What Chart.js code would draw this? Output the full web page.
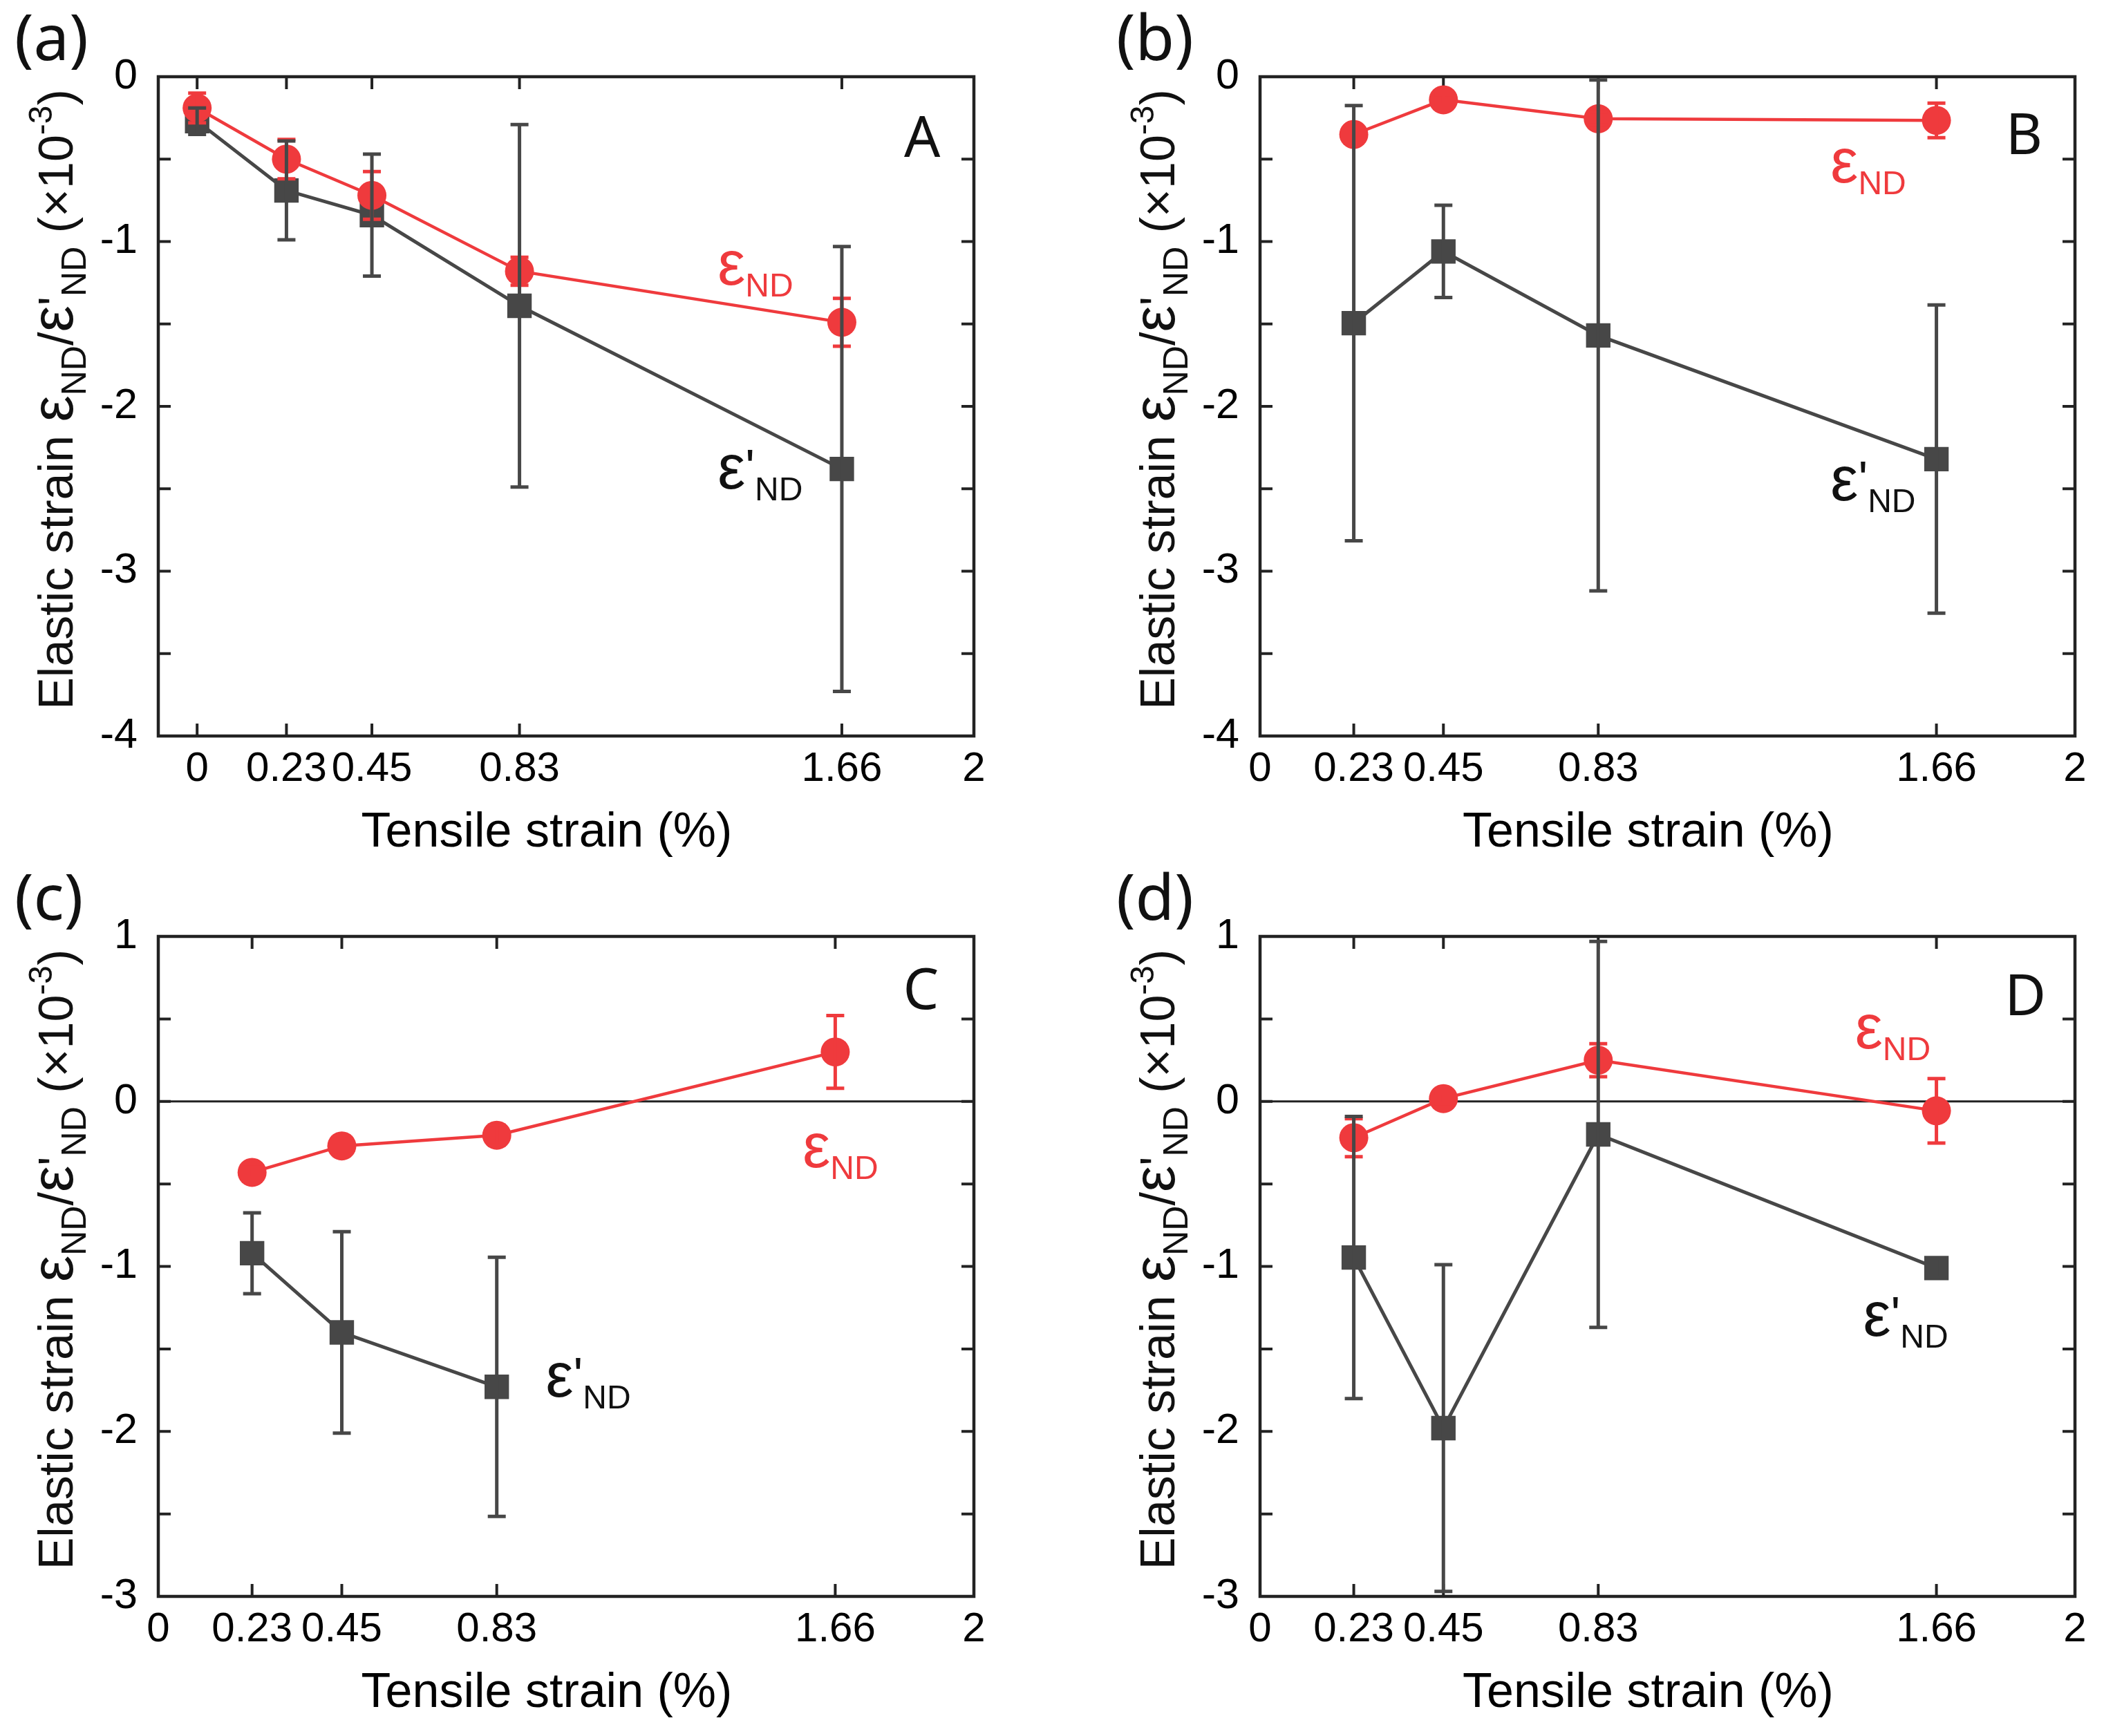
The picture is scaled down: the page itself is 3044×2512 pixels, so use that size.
<!DOCTYPE html>
<html>
<head>
<meta charset="utf-8">
<script src="https://cdn.jsdelivr.net/npm/chart.js@4.4.1/dist/chart.umd.min.js"></script>
<style>
  html, body { margin: 0; padding: 0; background: #fff; }
  .panel { position: absolute; width: 1522px; height: 1256px; }
</style>
</head>
<body>
<div class="panel" style="left:0;top:0"><canvas id="chartA"></canvas></div>
<div class="panel" style="left:1522px;top:0"><canvas id="chartB"></canvas></div>
<div class="panel" style="left:0;top:1256px"><canvas id="chartC"></canvas></div>
<div class="panel" style="left:1522px;top:1256px"><canvas id="chartD"></canvas></div>
<script>
// x tick labels shared by all panels
const xTickValues = [0, 0.23, 0.45, 0.83, 1.66, 2];

// (a)
const strainA = [0, 0.23, 0.45, 0.83, 1.66];
const ndA = [-0.19, -0.50, -0.72, -1.18, -1.49];
const ndErrA = [0.09, 0.12, 0.145, 0.085, 0.145];
const ndPrimeA = [-0.27, -0.69, -0.84, -1.39, -2.38];
const ndPrimeErrA = [0.08, 0.30, 0.37, 1.10, 1.35];

// (b)
const strainB = [0.23, 0.45, 0.83, 1.66];
const ndB = [-0.35, -0.14, -0.255, -0.265];
const ndErrB = [0.05, 0.03, 0.04, 0.105];
const ndPrimeB = [-1.495, -1.06, -1.57, -2.32];
const ndPrimeErrB = [1.32, 0.28, 1.55, 0.935];

// (c)
const strainC = [0.23, 0.45, 0.83, 1.66];
const ndC = [-0.43, -0.27, -0.205, 0.30];
const ndErrC = [0.03, 0.06, 0.06, 0.22];
const strainPrimeC = [0.23, 0.45, 0.83];
const ndPrimeC = [-0.92, -1.40, -1.73];
const ndPrimeErrC = [0.245, 0.61, 0.785];

// (d)
const strainD = [0.23, 0.45, 0.83, 1.66];
const ndD = [-0.22, 0.017, 0.25, -0.057];
const ndErrD = [0.115, 0.03, 0.10, 0.195];
const ndPrimeD = [-0.946, -1.98, -0.20, -1.01];
const ndPrimeErrD = [0.855, 0.99, 1.17, 0.06];

const RED = '#ef3a3d';
const GRAY = '#474747';
const INK = '#111111';
const FONT = "'Liberation Sans', Arial, sans-serif";
const LABEL_FONT = "'Noto Sans', 'Liberation Sans', sans-serif";
const W = 1522, H = 1256, Y_AXIS_W = 110, X_AXIS_H = 200;
const X_TITLE = 'Tensile strain (%)';

const yTitleParts = [
    { text: 'Elastic strain ', size: 70 },
    { text: 'ε', size: 86 },
    { text: 'ND', size: 50, dy: 19 },
    { text: '/', size: 70 },
    { text: 'ε', size: 86 },
    { text: "'", size: 70 },
    { text: 'ND', size: 50, dy: 19 },
    { text: ' (×10', size: 70 },
    { text: '-3', size: 48, dy: -30 },
    { text: ')', size: 70 }
];
const ndLabelParts = [
    { text: 'ε', size: 90 },
    { text: 'ND', size: 48, dy: 17 }
];
const ndPrimeLabelParts = [
    { text: 'ε', size: 90 },
    { text: "'", size: 72, dy: -6 },
    { text: 'ND', size: 48, dy: 17 }
];

function richWidth(ctx, parts) {
    let w = 0;
    parts.forEach(p => {
        ctx.font = `${p.size}px ${FONT}`;
        w += ctx.measureText(p.text).width;
    });
    return w;
}

function drawRich(ctx, parts, x, y, color) {
    let cx = x;
    parts.forEach(p => {
        ctx.font = `${p.size}px ${FONT}`;
        ctx.fillStyle = color;
        ctx.textBaseline = 'alphabetic';
        ctx.textAlign = 'left';
        ctx.fillText(p.text, cx, y + (p.dy || 0));
        cx += ctx.measureText(p.text).width;
    });
}

// box, inward ticks and zero line
const framePlugin = {
    id: 'frame',
    beforeDatasetsDraw(chart, args, opts) {
        const { ctx, chartArea: a, scales: { x, y } } = chart;
        ctx.save();
        ctx.strokeStyle = '#222';
        if (opts.zeroLine) {
            const py = y.getPixelForValue(0);
            ctx.lineWidth = 3;
            ctx.beginPath();
            ctx.moveTo(a.left, py);
            ctx.lineTo(a.right, py);
            ctx.stroke();
        }
        ctx.lineWidth = 4.5;
        ctx.strokeRect(a.left, a.top, a.right - a.left, a.bottom - a.top);
        const len = 18;
        ctx.lineWidth = 4;
        ctx.beginPath();
        xTickValues.forEach(v => {
            const px = x.getPixelForValue(v);
            if (px <= a.left + 2 || px >= a.right - 2) return;
            ctx.moveTo(px, a.bottom); ctx.lineTo(px, a.bottom - len);
            ctx.moveTo(px, a.top); ctx.lineTo(px, a.top + len);
        });
        for (let v = y.min + opts.yStep; v < y.max - 1e-6; v += opts.yStep) {
            const py = y.getPixelForValue(v);
            ctx.moveTo(a.left, py); ctx.lineTo(a.left + len, py);
            ctx.moveTo(a.right, py); ctx.lineTo(a.right - len, py);
        }
        ctx.stroke();
        ctx.restore();
    }
};

const errorBarPlugin = {
    id: 'errorBars',
    afterDatasetsDraw(chart) {
        const { ctx, scales: { x, y } } = chart;
        ctx.save();
        chart.data.datasets.forEach(ds => {
            if (!ds.errorBars) return;
            ctx.strokeStyle = ds.borderColor;
            ctx.lineWidth = 5;
            ds.data.forEach((pt, i) => {
                const e = ds.errorBars[i];
                const px = x.getPixelForValue(pt.x);
                const top = y.getPixelForValue(pt.y + e);
                const bot = y.getPixelForValue(pt.y - e);
                ctx.beginPath();
                ctx.moveTo(px, top); ctx.lineTo(px, bot);
                ctx.moveTo(px - 13, top); ctx.lineTo(px + 13, top);
                ctx.moveTo(px - 13, bot); ctx.lineTo(px + 13, bot);
                ctx.stroke();
            });
        });
        ctx.restore();
    }
};

const labelPlugin = {
    id: 'labels',
    afterDraw(chart, args, opts) {
        const { ctx, chartArea: a, scales: { x, y } } = chart;
        ctx.save();
        // panel letter
        ctx.font = `92px ${LABEL_FONT}`;
        ctx.fillStyle = INK;
        ctx.textAlign = 'left';
        ctx.textBaseline = 'alphabetic';
        ctx.fillText(opts.letter, a.left - 208, a.top - 24);
        // sample tag
        ctx.font = `82px ${LABEL_FONT}`;
        ctx.textAlign = 'center';
        ctx.textBaseline = 'middle';
        ctx.fillText(opts.tag, x.getPixelForValue(opts.tagAt[0]), y.getPixelForValue(opts.tagAt[1]));
        // x axis title, sits a little left of centre in the original
        ctx.font = `70px ${FONT}`;
        ctx.fillStyle = '#000';
        ctx.textBaseline = 'alphabetic';
        ctx.fillText(X_TITLE, (a.left + a.right) / 2 - 28, a.bottom + 160);
        // curve labels
        drawRich(ctx, ndLabelParts, x.getPixelForValue(opts.ndAt[0]), y.getPixelForValue(opts.ndAt[1]), RED);
        drawRich(ctx, ndPrimeLabelParts, x.getPixelForValue(opts.ndPrimeAt[0]), y.getPixelForValue(opts.ndPrimeAt[1]), INK);
        // y axis title
        const tw = richWidth(ctx, yTitleParts);
        ctx.translate(a.left - 124, (a.top + a.bottom) / 2 - 10);
        ctx.rotate(-Math.PI / 2);
        drawRich(ctx, yTitleParts, -tw / 2, 0, INK);
        ctx.restore();
    }
};

function toPoints(xs, ys) {
    return xs.map((v, i) => ({ x: v, y: ys[i] }));
}

function makePanel(cfg) {
    const ctx = document.getElementById(cfg.id)?.getContext('2d');
    if (!ctx) return;
    const a = cfg.area;
    return new Chart(ctx, {
        type: 'line',
        data: {
            datasets: [
                {
                    label: 'εND',
                    data: toPoints(cfg.ndX, cfg.nd),
                    errorBars: cfg.ndErr,
                    borderColor: RED,
                    backgroundColor: RED,
                    borderWidth: 4.5,
                    pointStyle: 'circle',
                    pointRadius: 21,
                    pointHoverRadius: 21,
                    pointBorderWidth: 0,
                    clip: false
                },
                {
                    label: "ε'ND",
                    data: toPoints(cfg.ndPrimeX, cfg.ndPrime),
                    errorBars: cfg.ndPrimeErr,
                    borderColor: GRAY,
                    backgroundColor: GRAY,
                    borderWidth: 5,
                    pointStyle: 'rect',
                    pointRadius: 25,
                    pointHoverRadius: 25,
                    pointBorderWidth: 0,
                    clip: false
                }
            ]
        },
        options: {
            responsive: true,
            maintainAspectRatio: false,
            animation: false,
            events: [],
            layout: {
                padding: {
                    left: a.left - Y_AXIS_W,
                    top: a.top,
                    right: W - a.right,
                    bottom: H - a.bottom - X_AXIS_H
                }
            },
            plugins: {
                legend: { display: false },
                tooltip: { enabled: false },
                frame: { zeroLine: cfg.zeroLine, yStep: 0.5 },
                labels: {
                    letter: cfg.letter, tag: cfg.tag, tagAt: cfg.tagAt,
                    ndAt: cfg.ndAt, ndPrimeAt: cfg.ndPrimeAt
                }
            },
            scales: {
                x: {
                    type: 'linear',
                    min: cfg.xMin,
                    max: 2,
                    afterBuildTicks: scale => { scale.ticks = xTickValues.map(v => ({ value: v })); },
                    afterFit: scale => { scale.height = X_AXIS_H; },
                    grid: { display: false, drawTicks: false },
                    border: { display: false },
                    ticks: {
                        autoSkip: false,
                        maxRotation: 0,
                        padding: 12,
                        color: '#000',
                        font: { family: FONT, size: 60 },
                        callback: v => String(v)
                    },
                    title: { display: false }
                },
                y: {
                    min: cfg.yMin,
                    max: cfg.yMax,
                    afterFit: scale => { scale.width = Y_AXIS_W; },
                    grid: { display: false, drawTicks: false },
                    border: { display: false },
                    ticks: {
                        stepSize: 1,
                        padding: 30,
                        color: '#000',
                        font: { family: FONT, size: 61 },
                        callback: v => String(v)
                    }
                }
            }
        },
        plugins: [framePlugin, errorBarPlugin, labelPlugin]
    });
}

const panels = [
    {
        id: 'chartA', letter: '(a)', tag: 'A', xMin: -0.1, yMin: -4, yMax: 0, zeroLine: false,
        ndX: strainA, nd: ndA, ndErr: ndErrA,
        ndPrimeX: strainA, ndPrime: ndPrimeA, ndPrimeErr: ndPrimeErrA,
        area: { left: 229, top: 111, right: 1409, bottom: 1065 },
        tagAt: [1.867, -0.39], ndAt: [1.34, -1.26], ndPrimeAt: [1.34, -2.50]
    },
    {
        id: 'chartB', letter: '(b)', tag: 'B', xMin: 0, yMin: -4, yMax: 0, zeroLine: false,
        ndX: strainB, nd: ndB, ndErr: ndErrB,
        ndPrimeX: strainB, ndPrime: ndPrimeB, ndPrimeErr: ndPrimeErrB,
        area: { left: 301, top: 111, right: 1480, bottom: 1065 },
        tagAt: [1.875, -0.37], ndAt: [1.40, -0.64], ndPrimeAt: [1.40, -2.57]
    },
    {
        id: 'chartC', letter: '(c)', tag: 'C', xMin: 0, yMin: -3, yMax: 1, zeroLine: true,
        ndX: strainC, nd: ndC, ndErr: ndErrC,
        ndPrimeX: strainPrimeC, ndPrime: ndPrimeC, ndPrimeErr: ndPrimeErrC,
        area: { left: 229, top: 99, right: 1409, bottom: 1054 },
        tagAt: [1.87, 0.66], ndAt: [1.58, -0.40], ndPrimeAt: [0.95, -1.79]
    },
    {
        id: 'chartD', letter: '(d)', tag: 'D', xMin: 0, yMin: -3, yMax: 1, zeroLine: true,
        ndX: strainD, nd: ndD, ndErr: ndErrD,
        ndPrimeX: strainD, ndPrime: ndPrimeD, ndPrimeErr: ndPrimeErrD,
        area: { left: 301, top: 99, right: 1480, bottom: 1054 },
        tagAt: [1.878, 0.62], ndAt: [1.46, 0.32], ndPrimeAt: [1.48, -1.42]
    }
];

panels.forEach(makePanel);
</script>
</body>
</html>
